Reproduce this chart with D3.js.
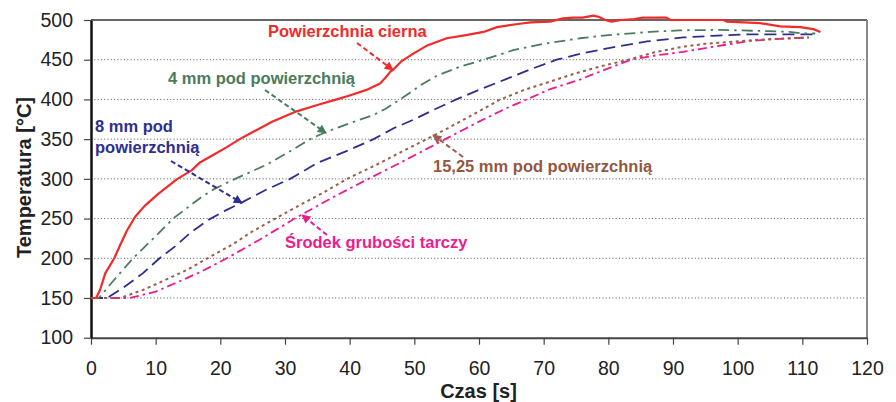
<!DOCTYPE html>
<html><head><meta charset="utf-8">
<script src="https://cdn.jsdelivr.net/npm/d3@7"></script>
<style>
body{margin:0;background:#fff}
svg{display:block}
text{font-family:"Liberation Sans",Arial,Helvetica,sans-serif}
</style>
</head><body>
<svg id="chart" width="896" height="402"></svg>
<script>
// ---------- DATA ----------
const xTicks = [0,10,20,30,40,50,60,70,80,90,100,110,120];
const yTicks = [100,150,200,250,300,350,400,450,500];
const xTitle = "Czas [s]";
const yTitle = "Temperatura [°C]";

const seriesNames = ["Powierzchnia cierna","4 mm pod powierzchnią","8 mm pod powierzchnią","15,25 mm pod powierzchnią","Środek grubości tarczy"];

const timeSurface = [0,0.8,1.4,2.2,3.6,4.2,5.5,6.8,8.3,10.4,13.2,15.6,16.9,18.9,21,23,24.6,28,31.8,35,38,40,42.6,44.7,45.5,46.3,46.8,48,49.9,52,55,58,60.7,62.8,66,68,71,73,74.6,76,77.7,78.5,79.5,80.5,82,84,85.4,89,89.6,97.8,98.3,103.5,106.6,109.7,111.7,112.8];
const tempSurface = [150,150,160,181,200,211,234,252,266,281,299,311,321,330,340,350,357,372,385,393,400,405,412,420,427,435,438,448,458,468,477,481,485,491,495,497,498,502,503,503,505.5,504,500,498,500,501,503,503,500,500,498,496,492,491,488.5,485];

const time4mm = [0,1.2,3.5,6.5,9.4,12.7,16.9,19,22.3,27.2,30,33.9,36.5,40,43.7,45.5,47.8,51,53.5,57,60.7,65.3,70,75.6,80,86.5,91,96.8,100,104.5,108,110.2,112];
const temp4mm = [150,150,172,200,223,250,276,287,300,318,331,350,359.5,370,380.5,388,400,418,430,441,450,462,470,477,481,485,487,487.5,487,486,485,483,483];

const time8mm = [0,2.5,5,8,10.6,13,15.5,18.3,21,23.5,27,30.8,35,40.1,43.7,46.8,50,53,56.5,60,64,68,72,76,81.3,86,91.6,96,102,106,111.7];
const temp8mm = [150,150,163,181,200,215,233,249,261,271,286,300,320,337,350,363.7,375,387,400,412,425,438,450,458,466.5,473,478,480,482,482,482];

const time15mm = [0,4.5,8,10.9,15,18,22,25,28.5,32.3,36,39.6,44.7,48,51.9,55,60,63.3,67,71,75,78.5,83.1,87,91.6,95,99.4,104,108,111];
const temp15mm = [150,150,160,170.5,186,200,218,234,250,267,283,300,320,334,350,363,385,400,412,422.5,433,441,450,459,466.5,470,472.8,475.5,477,478];

const timeMid = [0,6,10,13,17,21,26,31.5,37,42.9,48,54.8,60,64,67.4,71,75.6,79,83.5,87,91.6,96,102,106,111];
const tempMid = [150,150,158,168.5,183,200,223,250,275,300,321,350,372,388,400,413,425,436,450,455,460,466,473.7,476,478];

// ---------- LAYOUT ----------
const svg = d3.select("#chart");
const X0 = 91, X1 = 867, Y0 = 337.7, Y1 = 20;
const x = d3.scaleLinear().domain([0,120]).range([X0,X1]);
const y = d3.scaleLinear().domain([100,500]).range([Y0,Y1]);

// gridlines
svg.append("g").selectAll("line")
  .data(yTicks.filter(v => v > 100 && v < 500))
  .join("line")
  .attr("x1", X0).attr("x2", X1)
  .attr("y1", d => y(d)).attr("y2", d => y(d))
  .attr("stroke", "#555").attr("stroke-width", 1)
  .attr("stroke-dasharray", "1,2.3");

// frame: top & right
svg.append("line").attr("x1", X0).attr("x2", X1).attr("y1", Y1).attr("y2", Y1)
  .attr("stroke", "#333").attr("stroke-width", 1.5);
svg.append("line").attr("x1", X1).attr("x2", X1).attr("y1", Y1).attr("y2", Y0)
  .attr("stroke", "#888").attr("stroke-width", 2);

// axes
const xAxis = svg.append("g").attr("transform", `translate(0,${Y0})`)
  .call(d3.axisBottom(x).tickValues(xTicks).tickFormat(d3.format("d")).tickSizeOuter(0).tickSizeInner(7).tickPadding(16));
xAxis.select(".domain").attr("stroke", "#444").attr("stroke-width", 2);
xAxis.selectAll(".tick line").attr("stroke", "#444").attr("stroke-width", 1.2);
xAxis.selectAll("text").attr("font-size", 19.5).attr("fill", "#222")
  .attr("font-family", "'Liberation Sans',Arial,sans-serif");

const yAxis = svg.append("g").attr("transform", `translate(${X0},0)`)
  .call(d3.axisLeft(y).tickValues(yTicks).tickFormat(d3.format("d")).tickSizeOuter(0).tickSizeInner(7).tickPadding(11));
yAxis.select(".domain").attr("stroke", "#111").attr("stroke-width", 2.5);
yAxis.selectAll(".tick line").attr("stroke", "#444").attr("stroke-width", 1.2);
yAxis.selectAll("text").attr("font-size", 19.5).attr("fill", "#222")
  .attr("font-family", "'Liberation Sans',Arial,sans-serif");

// axis titles
svg.append("text").attr("x", 478.5).attr("y", 397.5).attr("text-anchor", "middle")
  .attr("font-size", 20).attr("font-weight", "bold").attr("fill", "#222").text(xTitle);
svg.append("text").attr("transform", "translate(31,177.5) rotate(-90)").attr("text-anchor", "middle")
  .attr("font-size", 20).attr("font-weight", "bold").attr("fill", "#222").text(yTitle);

// ---------- SERIES ----------
const series = [
  {name: seriesNames[0], t: timeSurface, v: tempSurface, color: "#f22a2a", dash: null, w: 2.2},
  {name: seriesNames[1], t: time4mm, v: temp4mm, color: "#4a7c5c", dash: "11,5,2.5,5", w: 1.8},
  {name: seriesNames[2], t: time8mm, v: temp8mm, color: "#2e2e90", dash: "12,6", w: 1.8},
  {name: seriesNames[3], t: time15mm, v: temp15mm, color: "#9a5e4a", dash: "3,3.5", w: 2},
  {name: seriesNames[4], t: timeMid, v: tempMid, color: "#ee1b8f", dash: "9,4,2.5,4", w: 1.8}
];
const line = d3.line().x(d => x(d[0])).y(d => y(d[1]));
// draw in reverse so surface on top
series.slice().reverse().forEach(s => {
  const pts = s.t.map((tt,i) => [tt, s.v[i]]);
  svg.append("path").attr("d", line(pts)).attr("fill", "none")
    .attr("stroke", s.color).attr("stroke-width", s.w)
    .attr("stroke-dasharray", s.dash).attr("stroke-linejoin", "round");
});

// ---------- ANNOTATIONS ----------
const defs = svg.append("defs");
series.forEach((s,i) => {
  defs.append("marker").attr("id", "arr"+i).attr("viewBox", "0 0 10 10")
    .attr("refX", 9).attr("refY", 5).attr("markerWidth", 10).attr("markerHeight", 9)
    .attr("markerUnits", "userSpaceOnUse").attr("orient", "auto")
    .append("path").attr("d", "M0,0 L10,5 L0,10 Z").attr("fill", s.color);
});
// annotation placement (pixel positions within the plot frame)
const notes = [
  {i:0, lines:["Powierzchnia cierna"], tx:268, ty:[37.3], a:[357,43,393,70]},
  {i:1, lines:["4 mm pod powierzchnią"], tx:168, ty:[84], a:[265,90,326,133]},
  {i:2, lines:["8 mm pod","powierzchnią"], tx:95, ty:[132,153], a:[171,161,242,203]},
  {i:3, lines:["15,25 mm pod powierzchnią"], tx:433, ty:[171.5], a:[463,157,433,135]},
  {i:4, lines:["Środek grubości tarczy"], tx:285, ty:[248.3], a:[327,235,302,215]}
];
notes.forEach(n => {
  const c = series[n.i].color;
  const tcol = n.i === 3 ? "#94573f" : c;
  n.lines.forEach((l,k) => {
    svg.append("text").attr("x", n.tx).attr("y", n.ty[k]).attr("font-size", 16.5)
      .attr("font-weight", "bold").attr("fill", tcol).text(l);
  });
  svg.append("line").attr("x1", n.a[0]).attr("y1", n.a[1]).attr("x2", n.a[2]).attr("y2", n.a[3])
    .attr("stroke", c).attr("stroke-width", 2).attr("stroke-dasharray", "5,3")
    .attr("marker-end", `url(#arr${n.i})`);
});
</script>
</body></html>
